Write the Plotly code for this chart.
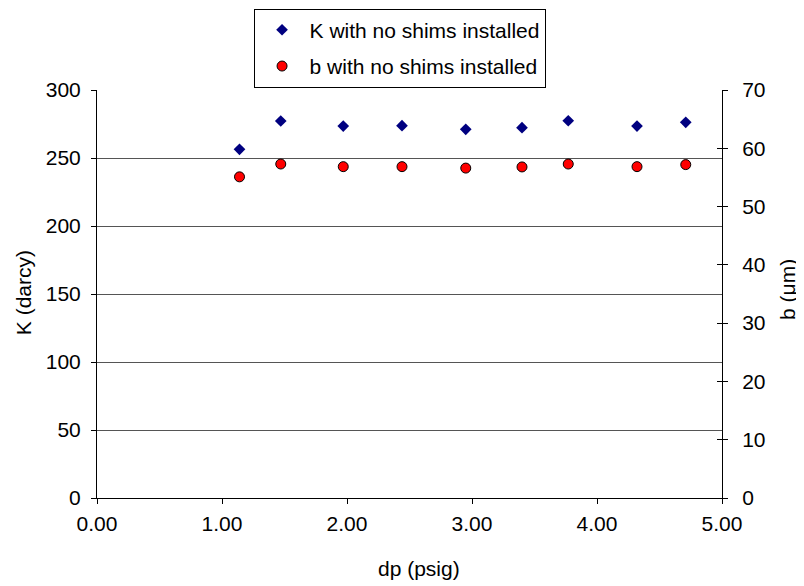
import plotly.graph_objects as go

dp = [1.14, 1.47, 1.97, 2.44, 2.95, 3.40, 3.77, 4.32, 4.71]
K_darcy = [256.4, 277.2, 273.5, 273.8, 271.1, 272.3, 277.4, 273.5, 276.2]
b_um = [55.1, 57.3, 56.85, 56.85, 56.6, 56.8, 57.3, 56.85, 57.2]

x_title = "dp (psig)"
y_title = "K (darcy)"
y2_title = "b (μm)"

font_family = "Liberation Sans, Arial, sans-serif"
FS = 21

fig = go.Figure()
fig.add_trace(go.Scatter(
    x=dp, y=K_darcy, mode="markers", name="K with no shims installed",
    legendgroup="k",
    marker=dict(symbol="diamond", size=9, color="#000080", line=dict(width=0)),
))
fig.add_trace(go.Scatter(
    x=dp, y=b_um, mode="markers", name="b with no shims installed",
    legendgroup="b", yaxis="y2",
    marker=dict(symbol="circle", size=10, color="#ff0000", line=dict(width=1, color="black")),
))
# helper (empty) trace so the right axis gets ticks crossing the axis line
fig.add_trace(go.Scatter(x=[None], y=[None], yaxis="y3", showlegend=False, hoverinfo="skip"))

tick_font = dict(size=FS)
fig.update_layout(
    width=804, height=586,
    paper_bgcolor="white", plot_bgcolor="white",
    margin=dict(l=89, r=90, t=82, b=96, autoexpand=False),
    font=dict(family=font_family, size=FS, color="black"),
    showlegend=True,
    legend=dict(
        x=0.487, y=0.999, xref="container", yref="container",
        xanchor="center", yanchor="top",
        bgcolor="white", bordercolor="black", borderwidth=1,
        font=dict(size=FS), tracegroupgap=6,
        itemsizing="trace", itemwidth=45,
    ),
    xaxis=dict(
        range=[0, 5], dtick=1, tickformat=".2f", tickfont=tick_font,
        showline=True, linecolor="black", linewidth=1,
        ticks="outside", ticklen=5, tickcolor="black", ticklabelstandoff=2,
        showgrid=False, zeroline=False, automargin=False,
    ),
    yaxis=dict(
        range=[0, 300], dtick=50, tickfont=tick_font,
        showline=True, linecolor="black", linewidth=1,
        ticks="outside", ticklen=5, tickcolor="black", ticklabelstandoff=6,
        showgrid=True, gridcolor="#555555", gridwidth=1,
        zeroline=False, automargin=False,
    ),
    yaxis2=dict(
        range=[0, 70], dtick=10, overlaying="y", side="right", tickfont=tick_font,
        showline=True, linecolor="black", linewidth=1,
        ticks="outside", ticklen=5, tickcolor="black", ticklabelstandoff=10,
        showgrid=False, zeroline=False, automargin=False,
    ),
    yaxis3=dict(
        range=[0, 70], dtick=10, overlaying="y", side="right",
        showline=False, ticks="inside", ticklen=5, tickcolor="black",
        showticklabels=False, showgrid=False, zeroline=False, automargin=False,
    ),
    annotations=[
        dict(text=x_title, xref="paper", yref="paper", x=0.515, y=0,
             xanchor="center", yanchor="middle", yshift=-70, showarrow=False,
             font=dict(size=FS)),
        dict(text=y_title, xref="paper", yref="paper", x=0, y=0.502,
             xanchor="center", yanchor="middle", xshift=-74, textangle=-90,
             showarrow=False, font=dict(size=FS)),
        dict(text=y2_title, xref="paper", yref="paper", x=1, y=0.51,
             xanchor="center", yanchor="middle", xshift=66, textangle=-90,
             showarrow=False, font=dict(size=FS)),
    ],
)

fig.write_html("out.html")
